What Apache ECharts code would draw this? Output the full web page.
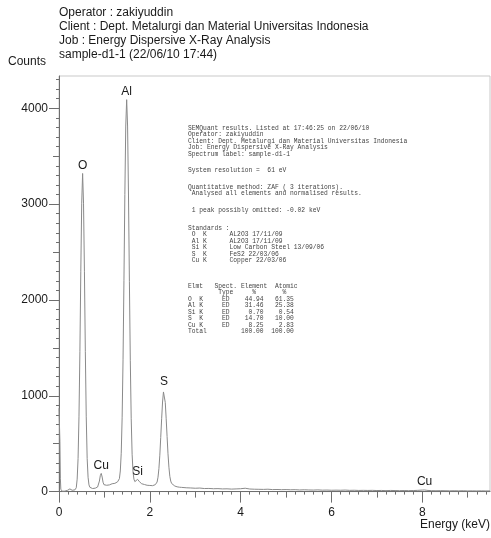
<!DOCTYPE html>
<html>
<head>
<meta charset="utf-8">
<script src="https://cdn.jsdelivr.net/npm/echarts@6/dist/echarts.min.js"></script>
<style>
  html, body { margin: 0; padding: 0; background: #fff; }
  #chart { width: 491px; height: 538px; }
</style>
</head>
<body>
<div id="chart"></div>
<script>
// EDS spectrum of sample-d1-1: energy (keV) and counts per channel
const energy = [
  0.00, 0.01, 0.02, 0.03, 0.04, 0.05, 0.07, 0.10, 0.13, 0.16, 0.19, 0.22, 0.24, 0.26, 0.29, 0.32, 0.35,
  0.38, 0.40, 0.42, 0.44, 0.46, 0.48, 0.50, 0.52, 0.54, 0.56, 0.58, 0.60, 0.62, 0.64, 0.66, 0.68,
  0.71, 0.74, 0.77, 0.80, 0.83, 0.85, 0.87, 0.89, 0.91, 0.93, 0.95, 0.97, 0.99,
  1.02, 1.05, 1.08, 1.11, 1.14, 1.17, 1.20, 1.23, 1.26, 1.29, 1.31,
  1.33, 1.35, 1.37, 1.39, 1.41, 1.43, 1.45, 1.47, 1.49, 1.51, 1.53, 1.55, 1.57, 1.59, 1.61, 1.63,
  1.65, 1.67, 1.69, 1.71, 1.73, 1.75, 1.77, 1.79, 1.82, 1.85, 1.88, 1.91, 1.94, 1.97, 2.00, 2.03,
  2.06, 2.09, 2.12, 2.14, 2.16, 2.18, 2.20, 2.22, 2.24, 2.26, 2.28, 2.30, 2.31, 2.32, 2.34, 2.36,
  2.38, 2.40, 2.42, 2.44, 2.46, 2.48, 2.51, 2.55, 2.60, 2.65, 2.70, 2.80, 2.90, 3.00,
  3.1, 3.2, 3.3, 3.4, 3.5, 3.6, 3.7, 3.8, 3.9, 4.0, 4.1, 4.2, 4.3, 4.4, 4.5, 4.6, 4.7, 4.8, 4.9,
  5.0, 5.1, 5.2, 5.3, 5.4, 5.5, 5.6, 5.7, 5.8, 5.9, 6.0, 6.1, 6.2, 6.3, 6.4, 6.5, 6.6, 6.7, 6.8, 6.9,
  7.0, 7.1, 7.2, 7.3, 7.4, 7.5, 7.6, 7.7, 7.8, 7.9, 8.0, 8.05, 8.1, 8.2, 8.3, 8.4, 8.5, 8.6, 8.7,
  8.8, 8.9, 9.0, 9.1, 9.2, 9.3, 9.4, 9.49
];
const counts = [
  870, 865, 520, 140, 25, 8, 4, 3, 5, 8, 14, 24, 28, 22, 14, 12, 18,
  40, 130, 345, 780, 1460, 2300, 3010, 3320, 3010, 2300, 1460, 780, 345, 150, 70, 45,
  36, 32, 38, 36, 42, 48, 62, 110, 168, 190, 152, 98, 72,
  64, 66, 72, 70, 78, 82, 88, 86, 95, 102, 110,
  135, 215, 400, 770, 1375, 2200, 3100, 3815, 4090, 3815, 3095, 2195, 1365, 760, 390, 205,
  130, 104, 106, 118, 128, 122, 104, 90, 82, 78, 74, 70, 66, 68, 64, 66,
  62, 68, 72, 80, 100, 150, 240, 380, 565, 760, 935, 1040, 1060, 1045, 930, 760,
  575, 395, 255, 160, 110, 85, 70, 58, 50, 46, 44, 40, 38, 35,
  37, 32, 33, 30, 31, 28, 29, 26, 28, 30, 35, 27, 25, 24, 23, 25, 21, 22, 20,
  21, 19, 20, 17, 19, 17, 16, 18, 15, 16, 14, 15, 14, 16, 13, 14, 12, 13, 12, 13,
  11, 12, 10, 12, 11, 10, 11, 10, 11, 13, 16, 17, 13, 10, 9, 10, 9, 8, 9,
  8, 9, 7, 8, 7, 8, 7, 7
];

// Element line labels
const peakNames  = ['O', 'Al', 'Cu', 'Si', 'S', 'Cu'];
const peakEnergy = [0.52, 1.49, 0.93, 1.73, 2.31, 8.05];
const peakCounts = [3320, 4090, 190, 128, 1060, 17];

// Axis ticks
const xMajorTicks = [0, 2, 4, 6, 8];
const xMidTicks   = [1, 3, 5, 7, 9];
const yMajorTicks = [0, 1000, 2000, 3000, 4000];
const yMidTicks   = [500, 1500, 2500, 3500];

const headerLines = [
  'Operator : zakiyuddin',
  'Client : Dept. Metalurgi dan Material Universitas Indonesia',
  'Job : Energy Dispersive X-Ray Analysis',
  'sample-d1-1 (22/06/10 17:44)'
];

// Quantitative results printout
const reportLines = [
  'SEMQuant results. Listed at 17:46:25 on 22/06/10',
  'Operator: zakiyuddin',
  'Client: Dept. Metalurgi dan Material Universitas Indonesia',
  'Job: Energy Dispersive X-Ray Analysis',
  'Spectrum label: sample-d1-1',
  'System resolution =  61 eV',
  'Quantitative method: ZAF ( 3 iterations).',
  ' Analysed all elements and normalised results.',
  ' 1 peak possibly omitted: -0.02 keV',
  'Standards :',
  ' O  K      AL2O3 17/11/09',
  ' Al K      AL2O3 17/11/09',
  ' Si K      Low Carbon Steel 13/09/06',
  ' S  K      FeS2 22/03/06',
  ' Cu K      Copper 22/03/06',
  'Elmt   Spect. Element  Atomic',
  '        Type     %       %',
  'O  K     ED    44.94   61.35',
  'Al K     ED    31.46   25.38',
  'Si K     ED     0.70    0.54',
  'S  K     ED    14.70   10.00',
  'Cu K     ED     8.25    2.83',
  'Total         100.00  100.00'
];
const reportY = [128, 134.5, 141, 147.5, 154, 170, 187, 193.5, 210, 228, 234.5, 241, 247.5, 254, 260.5,
                 286, 292.5, 299, 305.5, 312, 318.5, 325, 331.5];

const chart = echarts.init(document.getElementById('chart'), null, { renderer: 'canvas' });

const axisGray = '#6e6e6e';
const textDark = '#1a1a1a';
const sansFont = '"Liberation Sans", Arial, sans-serif';

const graphics = [];
headerLines.forEach((t, i) => {
  graphics.push({
    type: 'text', left: 59, top: 7 + i * 14,
    style: { text: t, font: '12px ' + sansFont, fill: textDark }
  });
});
graphics.push({ type: 'text', left: 8, top: 56, style: { text: 'Counts', font: '12px ' + sansFont, fill: textDark } });
graphics.push({ type: 'text', right: 1, top: 519, style: { text: 'Energy (keV)', font: '12px ' + sansFont, fill: textDark } });
reportLines.forEach((t, i) => {
  graphics.push({
    type: 'text', x: 188, y: reportY[i],
    style: { text: t, font: '6.3px "Liberation Mono", "DejaVu Sans Mono", monospace', fill: '#444', verticalAlign: 'middle' }
  });
});

chart.setOption({
  animation: false,
  backgroundColor: '#fff',
  grid: {
    left: 59, right: 1, top: 76, bottom: 46.4,
    show: true, borderColor: '#c9c9c9', borderWidth: 1
  },
  xAxis: [
    {
      type: 'value', min: 0, max: 9.49, interval: 2,
      axisLine: { show: true, lineStyle: { color: axisGray, width: 1 } },
      axisTick: { show: true, length: 11, customValues: xMajorTicks, lineStyle: { color: axisGray } },
      minorTick: { show: true, splitNumber: 10, length: 3, lineStyle: { color: axisGray } },
      axisLabel: { customValues: xMajorTicks, margin: 15, color: textDark, fontSize: 12, fontFamily: sansFont,
                   formatter: v => String(v) },
      splitLine: { show: false }, minorSplitLine: { show: false }
    },
    {
      type: 'value', min: 0, max: 9.49, interval: 1, position: 'bottom',
      axisLine: { show: false },
      axisTick: { show: true, length: 6, customValues: xMidTicks, lineStyle: { color: axisGray } },
      axisLabel: { show: false }, splitLine: { show: false }
    }
  ],
  yAxis: [
    {
      type: 'value', min: 0, max: 4337, interval: 1000,
      axisLine: { show: true, lineStyle: { color: axisGray, width: 1 } },
      axisTick: { show: true, length: 10, customValues: yMajorTicks, lineStyle: { color: axisGray } },
      minorTick: { show: true, splitNumber: 10, length: 3, lineStyle: { color: axisGray } },
      axisLabel: { customValues: yMajorTicks, margin: 11, color: textDark, fontSize: 12, fontFamily: sansFont,
                   formatter: v => String(v) },
      splitLine: { show: false }, minorSplitLine: { show: false }
    },
    {
      type: 'value', min: 0, max: 4337, interval: 500, position: 'left',
      axisLine: { show: false },
      axisTick: { show: true, length: 6, customValues: yMidTicks, lineStyle: { color: axisGray } },
      axisLabel: { show: false }, splitLine: { show: false }
    }
  ],
  series: [
    {
      name: 'Spectrum', type: 'line', xAxisIndex: 0, yAxisIndex: 0,
      data: energy.map((e, i) => [e, counts[i]]),
      showSymbol: false, symbol: 'none',
      lineStyle: { color: '#8a8a8a', width: 1 },
      silent: true, z: 2
    },
    {
      name: 'Lines', type: 'scatter', xAxisIndex: 0, yAxisIndex: 0,
      data: peakNames.map((n, i) => ({ name: n, value: [peakEnergy[i], peakCounts[i]] })),
      symbolSize: 0, itemStyle: { opacity: 1, color: textDark },
      label: {
        show: true, position: 'top', distance: 2, formatter: p => p.name,
        color: textDark, fontSize: 12, fontFamily: sansFont, opacity: 1
      },
      silent: true, z: 3
    }
  ],
  graphic: graphics
});
</script>
</body>
</html>
